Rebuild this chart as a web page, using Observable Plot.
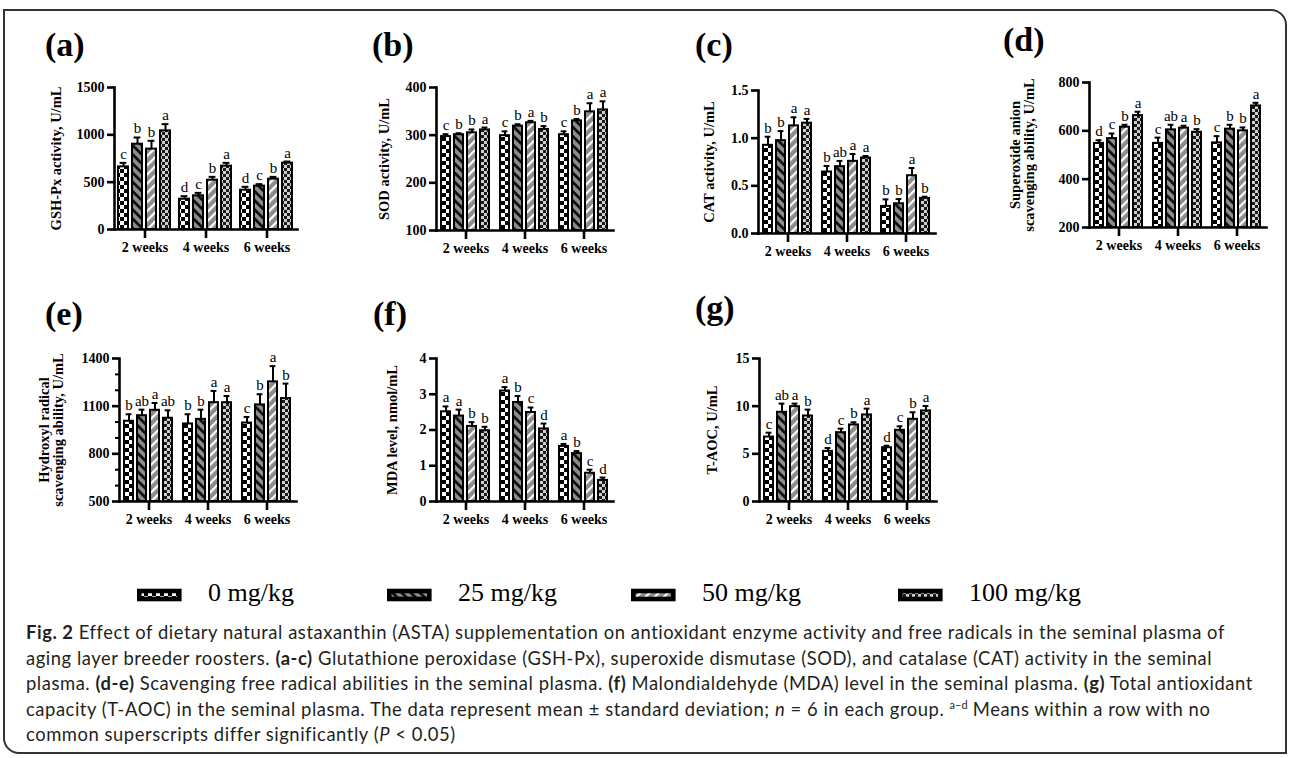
<!DOCTYPE html>
<html><head><meta charset="utf-8">
<script src="https://cdn.jsdelivr.net/npm/d3@7"></script>
<script src="https://cdn.jsdelivr.net/npm/@observablehq/plot@0.6"></script>
<style>
html,body{margin:0;padding:0;background:#fff;}
#fig{position:relative;width:1292px;height:758px;overflow:hidden;background:#fff;}
#border{position:absolute;left:3px;top:9px;width:1284px;height:745px;border:2.5px solid #333;border-radius:0 16px 0 16px;box-sizing:border-box;}
.panel{position:absolute;}
#caption{position:absolute;left:26px;top:620px;font-family:Lato,"Noto Sans",sans-serif;font-size:18.4px;line-height:25.5px;color:#231f20;white-space:nowrap;letter-spacing:0.55px;}
#caption sup{font-size:11px;line-height:0;vertical-align:7px;letter-spacing:0;}
</style></head>
<body>
<div id="fig">
<div id="border"></div>
<svg width="0" height="0" style="position:absolute;left:0;top:0">
<defs>
<pattern id="pat0" patternUnits="userSpaceOnUse" width="8" height="8">
<rect width="8" height="8" fill="#fff"/><rect width="4" height="4" fill="#000"/><rect x="4" y="4" width="4" height="4" fill="#000"/>
</pattern>
<pattern id="pat1" patternUnits="userSpaceOnUse" width="6.5" height="6.5" patternTransform="rotate(-45)">
<rect width="6.5" height="6.5" fill="#8c8c8c"/><rect width="2.8" height="6.5" fill="#111"/>
</pattern>
<pattern id="pat2" patternUnits="userSpaceOnUse" width="6.5" height="6.5" patternTransform="rotate(45)">
<rect width="6.5" height="6.5" fill="#8c8c8c"/><rect width="2.2" height="6.5" fill="#fff"/>
</pattern>
<pattern id="pat3" patternUnits="userSpaceOnUse" width="6" height="6">
<rect width="6" height="6" fill="#1a1a1a"/><rect width="3" height="3" fill="#cfcfcf"/><rect x="3" y="3" width="3" height="3" fill="#cfcfcf"/>
</pattern>
</defs>
</svg>
<div id="caption">
<b>Fig. 2</b> Effect of dietary natural astaxanthin (ASTA) supplementation on antioxidant enzyme activity and free radicals in the seminal plasma of<br>
aging layer breeder roosters. <b>(a-c)</b> Glutathione peroxidase (GSH-Px), superoxide dismutase (SOD), and catalase (CAT) activity in the seminal<br>
plasma. <b>(d-e)</b> Scavenging free radical abilities in the seminal plasma. <b>(f)</b> Malondialdehyde (MDA) level in the seminal plasma. <b>(g)</b> Total antioxidant<br>
capacity (T-AOC) in the seminal plasma. The data represent mean ± standard deviation; <i>n</i> = 6 in each group. <sup>a–d</sup> Means within a row with no<br>
common superscripts differ significantly (<i>P</i> &lt; 0.05)
</div>
</div>
<script>
const weeks = ["2 weeks", "4 weeks", "6 weeks"];
const doses = ["0 mg/kg", "25 mg/kg", "50 mg/kg", "100 mg/kg"];

// (a) GSH-Px activity
const gshMean = [[662, 901, 849, 1042], [320, 356, 521, 669], [415, 458, 532, 701]];
const gshSD = [[42, 71, 88, 71], [32, 31, 35, 35], [36, 21, 24, 17]];
const gshSig = [["c","b","b","a"], ["d","c","b","a"], ["d","c","b","a"]];
const gshTicks = [0, 500, 1000, 1500];

// (b) SOD activity
const sodMean = [[297, 301, 305, 311], [299, 319, 326, 312], [301, 330, 349, 353]];
const sodSD = [[5, 3, 7, 5], [9, 4, 4, 7], [7, 4, 18, 18]];
const sodSig = [["c","b","b","a"], ["c","b","a","b"], ["c","b","a","a"]];
const sodTicks = [100, 200, 300, 400];

// (c) CAT activity
const catMean = [[0.925, 0.974, 1.129, 1.157], [0.645, 0.701, 0.757, 0.792], [0.284, 0.312, 0.606, 0.368]];
const catSD = [[0.09, 0.10, 0.09, 0.045], [0.063, 0.06, 0.077, 0.021], [0.074, 0.049, 0.081, 0.018]];
const catSig = [["b","b","a","a"], ["b","ab","a","a"], ["b","b","a","b"]];
const catTicks = [0, 0.5, 1.0, 1.5];

// (d) Superoxide anion scavenging ability
const soaMean = [[548, 568, 615, 663], [548, 604, 611, 594], [550, 607, 600, 703]];
const soaSD = [[13, 21, 10, 16], [24, 21, 10, 13], [28, 18, 14, 13]];
const soaSig = [["d","c","b","a"], ["c","ab","a","b"], ["c","b","b","a"]];
const soaTicks = [200, 400, 600, 800];

// (e) Hydroxyl radical scavenging ability
const hrMean = [[1005, 1040, 1074, 1024], [988, 1017, 1122, 1122], [994, 1108, 1253, 1148]];
const hrSD = [[44, 38, 46, 50], [61, 61, 74, 42], [38, 67, 99, 94]];
const hrSig = [["b","ab","a","ab"], ["b","b","a","a"], ["c","b","a","b"]];
const hrTicks = [500, 800, 1100, 1400];
const hrMinorTicks = [600, 700, 900, 1000, 1200, 1300];

// (f) MDA level
const mdaMean = [[2.51, 2.39, 2.10, 1.98], [3.09, 2.77, 2.49, 2.03], [1.54, 1.34, 0.79, 0.59]];
const mdaSD = [[0.15, 0.18, 0.12, 0.11], [0.11, 0.18, 0.14, 0.15], [0.07, 0.07, 0.10, 0.08]];
const mdaSig = [["a","a","b","b"], ["a","b","c","d"], ["a","b","c","d"]];
const mdaTicks = [0, 1, 2, 3, 4];

// (g) T-AOC
const taocMean = [[6.76, 9.36, 9.95, 8.97], [5.26, 7.22, 8.03, 9.08], [5.64, 7.47, 8.62, 9.50]];
const taocSD = [[0.46, 0.91, 0.32, 0.67], [0.35, 0.42, 0.28, 0.66], [0.21, 0.42, 0.74, 0.52]];
const taocSig = [["c","ab","a","b"], ["d","c","b","a"], ["d","c","b","a"]];
const taocTicks = [0, 5, 10, 15];

const intFmt = d3.format("d");
const decFmt = d3.format(".1f");
const panels = [
  {tag: "(a)", title: "GSH-Px activity, U/mL", mean: gshMean, sd: gshSD, sig: gshSig, ticks: gshTicks, fmt: intFmt,
   x0: 107, x1: 303, y0: 87, y1: 229, lx: 45, ly: 56, lo: 64},
  {tag: "(b)", title: "SOD activity, U/mL", mean: sodMean, sd: sodSD, sig: sodSig, ticks: sodTicks, fmt: intFmt,
   x0: 428, x1: 620, y0: 87, y1: 230, lx: 372, ly: 56, lo: 58},
  {tag: "(c)", title: "CAT activity, U/mL", mean: catMean, sd: catSD, sig: catSig, ticks: catTicks, fmt: decFmt,
   x0: 750, x1: 942, y0: 90, y1: 233, lx: 695, ly: 56, lo: 55},
  {tag: "(d)", title: "Superoxide anion\nscavenging ability, U/mL", mean: soaMean, sd: soaSD, sig: soaSig, ticks: soaTicks, fmt: intFmt,
   x0: 1082, x1: 1273, y0: 82, y1: 227, lx: 1003, ly: 51, lo: 80},
  {tag: "(e)", title: "Hydroxyl radical\nscavenging ability, U/mL", mean: hrMean, sd: hrSD, sig: hrSig, ticks: hrTicks, minor: hrMinorTicks, fmt: intFmt,
   x0: 111, x1: 303, y0: 358, y1: 501, lx: 45, ly: 325, lo: 81},
  {tag: "(f)", title: "MDA level, nmol/mL", mean: mdaMean, sd: mdaSD, sig: mdaSig, ticks: mdaTicks, fmt: intFmt,
   x0: 428, x1: 620, y0: 358, y1: 501, lx: 373, ly: 325, lo: 50},
  {tag: "(g)", title: "T-AOC, U/mL", mean: taocMean, sd: taocSD, sig: taocSig, ticks: taocTicks, fmt: intFmt,
   x0: 751, x1: 943, y0: 358, y1: 501, lx: 695, ly: 319, lo: 53}
];

const fig = document.getElementById("fig");
const serif = "'Liberation Serif','Times New Roman',serif";
const ML = 90, MR = 8, MT = 30, MB = 40;

for (const cfg of panels) {
  const rows = [];
  weeks.forEach((w, i) => doses.forEach((d, j) => rows.push({
    week: w, dose: d, mean: cfg.mean[i][j], top: cfg.mean[i][j] + cfg.sd[i][j], sig: cfg.sig[i][j]
  })));
  const base = cfg.ticks[0];
  const W = cfg.x1 - cfg.x0, H = cfg.y1 - cfg.y0;
  const marks = [
    ...doses.map((d, j) => Plot.barY(rows.filter(r => r.dose === d), {
      fx: "week", x: "dose", y1: base, y2: "mean", fill: `url(#pat${j})`, stroke: "black", strokeWidth: 2
    })),
    Plot.ruleX(rows, {fx: "week", x: "dose", y1: "mean", y2: "top", stroke: "black", strokeWidth: 2}),
    Plot.tickY(rows, {fx: "week", x: "dose", y: "top", stroke: "black", strokeWidth: 2, insetLeft: 1.6, insetRight: 1.6}),
    Plot.text(rows, {fx: "week", x: "dose", y: "top", text: "sig", dy: -4, lineAnchor: "bottom",
      fontSize: 15, fontWeight: "normal", fill: "black"}),
    Plot.frame({anchor: "left", facet: "super", stroke: "black", strokeWidth: 2.6}),
    Plot.frame({anchor: "bottom", facet: "super", stroke: "black", strokeWidth: 2.6}),
    Plot.axisY({ticks: cfg.ticks, tickFormat: cfg.fmt, tickSize: 7, tickPadding: 3, strokeWidth: 2.6,
      label: null, fontSize: 14, fontWeight: "bold", fill: "black"}),
    Plot.axisY({ticks: [], label: cfg.title, labelAnchor: "center", labelArrow: "none", labelOffset: cfg.lo,
      fontSize: 14.5, fontWeight: "bold", fill: "black", lineHeight: 1.1}),
    Plot.axisFx({anchor: "bottom", tickSize: 9, tickPadding: 4, strokeWidth: 2.6, label: null,
      fontSize: 14, fontWeight: "bold", fill: "black"})
  ];
  if (cfg.minor) marks.push(Plot.axisY({ticks: cfg.minor, tickSize: 4, tickFormat: () => "", label: null, strokeWidth: 2}));
  const chart = Plot.plot({
    width: ML + W + MR, height: MT + H + MB,
    marginLeft: ML, marginRight: MR, marginTop: MT, marginBottom: MB,
    x: {domain: doses, axis: null, paddingInner: 0.27, paddingOuter: 0.3},
    fx: {domain: weeks, paddingInner: 0, paddingOuter: 0.105},
    y: {domain: [base, cfg.ticks[cfg.ticks.length - 1]]},
    style: {fontFamily: serif, fontSize: "13px", fontWeight: "bold", color: "black", background: "transparent", overflow: "visible"},
    marks
  });
  chart.classList.add("panel");
  chart.style.left = (cfg.x0 - ML) + "px";
  chart.style.top = (cfg.y0 - MT) + "px";
  fig.appendChild(chart);
}

// overlay: panel tags and legend
const ov = d3.select(fig).append("svg").attr("width", 1292).attr("height", 758)
  .style("position", "absolute").style("left", 0).style("top", 0).style("pointer-events", "none");
ov.selectAll("text.tag").data(panels).join("text").attr("class", "tag")
  .attr("x", d => d.lx).attr("y", d => d.ly).text(d => d.tag)
  .style("font-family", serif).style("font-weight", "bold").style("font-size", "34px");

const legendX = [137, 387, 631, 898];
const lg = ov.append("g");
doses.forEach((d, j) => {
  lg.append("rect").attr("x", legendX[j] + 2.3).attr("y", 591).attr("width", 40).attr("height", 8)
    .attr("fill", `url(#pat${j})`).attr("stroke", "black").attr("stroke-width", 4.6);
  lg.append("text").attr("x", legendX[j] + 71).attr("y", 601).text(d)
    .style("font-family", serif).style("font-size", "26px");
});
</script>
</body></html>
